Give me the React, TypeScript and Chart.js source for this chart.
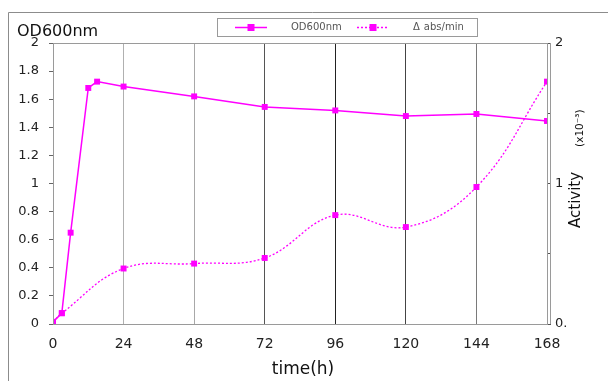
import React, { useEffect, useRef } from "react";
import { Chart, registerables } from "chart.js";

Chart.register(...registerables);

const odHours = [0, 3, 6, 12, 15, 24, 48, 72, 96, 120, 144, 168];
const odValues = [0.015, 0.077, 0.65, 1.68, 1.725, 1.69, 1.62, 1.545, 1.52, 1.48, 1.495, 1.445];
const actHours = [0, 3, 24, 48, 72, 96, 120, 144, 168];
const actValues = [0.015, 0.077, 0.395, 0.43, 0.47, 0.775, 0.69, 0.975, 1.725];
const xTicks = [0, 24, 48, 72, 96, 120, 144, 168];
const leftTicks = [0, 0.2, 0.4, 0.6, 0.8, 1, 1.2, 1.4, 1.6, 1.8, 2];
const rightTicks = [0, 0.5, 1, 1.5, 2];
const rightTickLabels: Record<string, string> = { "0": "0.", "1": "1", "2": "2" };
const legendLabels = ["OD600nm", "\u0394abs/min"];

const MAGENTA = "#ff00ff";
const FONT = "'DejaVu Sans', Verdana, sans-serif";

const gridColors: Record<number, string> = {
  24: "#b0b0b0",
  48: "#a8a8a8",
  72: "#555555",
  96: "#222222",
  120: "#444444",
  144: "#7a7a7a",
  168: "#888888",
};

const decorPlugin = {
  id: "decor",
  beforeDraw(chart: any) {
    const ctx = chart.ctx;
    ctx.save();
    ctx.fillStyle = "#ffffff";
    ctx.fillRect(0, 0, chart.width, chart.height);
    ctx.strokeStyle = "#8c8c8c";
    ctx.lineWidth = 1;
    ctx.beginPath();
    ctx.moveTo(0.5, chart.height);
    ctx.lineTo(0.5, 4.5);
    ctx.lineTo(chart.width, 4.5);
    ctx.stroke();
    ctx.restore();
  },
  afterDraw(chart: any) {
    const ctx = chart.ctx;
    const a = chart.chartArea;
    ctx.save();
    // plot frame
    ctx.strokeStyle = "#9a9a9a";
    ctx.lineWidth = 1;
    ctx.strokeRect(a.left + 0.5, a.top + 0.5, a.right - a.left, a.bottom - a.top);
    ctx.beginPath();
    ctx.moveTo(a.right + 3.5, a.top);
    ctx.lineTo(a.right + 3.5, a.bottom);
    ctx.stroke();

    // title
    ctx.fillStyle = "#111";
    ctx.font = `16px ${FONT}`;
    ctx.textBaseline = "alphabetic";
    ctx.textAlign = "left";
    ctx.fillText("OD600nm", 9, 28);

    // x title
    ctx.font = `17px ${FONT}`;
    ctx.textAlign = "center";
    ctx.fillText("time(h)", 295, 366);

    // right title
    ctx.save();
    ctx.translate(572, 220);
    ctx.rotate(-Math.PI / 2);
    ctx.textAlign = "left";
    ctx.font = `15px ${FONT}`;
    ctx.fillText("Activity", 0, 0);
    const w = ctx.measureText("Activity").width;
    ctx.font = `10.5px ${FONT}`;
    ctx.fillText("(x10\u207B\u00B3)", w + 25, 3);
    ctx.restore();

    // legend
    const lx = 209, ly = 10, lw = 260, lh = 18;
    ctx.fillStyle = "#ffffff";
    ctx.fillRect(lx, ly, lw, lh);
    ctx.strokeStyle = "#9a9a9a";
    ctx.strokeRect(lx + 0.5, ly + 0.5, lw, lh);
    const cy = ly + lh / 2 + 0.5;
    const drawSample = (x0: number, dashed: boolean) => {
      ctx.strokeStyle = MAGENTA;
      ctx.lineWidth = 1.5;
      ctx.setLineDash(dashed ? [2, 2] : []);
      ctx.beginPath();
      ctx.moveTo(x0, cy);
      ctx.lineTo(x0 + 32, cy);
      ctx.stroke();
      ctx.setLineDash([]);
      ctx.fillStyle = MAGENTA;
      ctx.fillRect(x0 + 16 - 3.5, cy - 3.5, 7, 7);
    };
    drawSample(227, false);
    drawSample(349, true);
    ctx.fillStyle = "#555";
    ctx.font = `10px ${FONT}`;
    ctx.textAlign = "left";
    ctx.textBaseline = "middle";
    ctx.fillText(legendLabels[0], 283, cy);
    const first = legendLabels[1].charAt(0);
    ctx.fillText(first, 405, cy);
    const fw = ctx.measureText(first).width;
    ctx.fillText(legendLabels[1].slice(1), 405 + fw + 4, cy);
    ctx.restore();
  },
};

export default function App() {
  const ref = useRef<HTMLCanvasElement | null>(null);
  useEffect(() => {
    if (!ref.current) return;
    const chart = new Chart(ref.current, {
      type: "line",
      data: {
        datasets: [
          {
            label: legendLabels[0],
            data: odHours.map((h, i) => ({ x: h, y: odValues[i] })),
            borderColor: MAGENTA,
            backgroundColor: MAGENTA,
            borderWidth: 1.5,
            pointStyle: "rect",
            pointRadius: 4.2,
            pointBorderWidth: 0,
            tension: 0,
            yAxisID: "y",
          },
          {
            label: legendLabels[1],
            data: actHours.map((h, i) => ({ x: h, y: actValues[i] })),
            borderColor: MAGENTA,
            backgroundColor: MAGENTA,
            borderWidth: 1.3,
            borderDash: [2, 2],
            pointStyle: "rect",
            pointRadius: 4.2,
            pointBorderWidth: 0,
            tension: 0.4,
            yAxisID: "y1",
          },
        ],
      },
      options: {
        responsive: false,
        animation: false,
        layout: { padding: { top: 35, left: 0, right: 0, bottom: 0 } },
        plugins: { legend: { display: false }, tooltip: { enabled: false } },
        scales: {
          x: {
            type: "linear",
            min: 0,
            max: 168,
            afterBuildTicks: (s: any) => {
              s.ticks = xTicks.map((v) => ({ value: v }));
            },
            afterFit: (s: any) => {
              s.height = 57;
            },
            grid: {
              drawTicks: false,
              color: (c: any) => gridColors[c.tick?.value] ?? "rgba(0,0,0,0)",
              lineWidth: 1,
            },
            border: { color: "#8c8c8c" },
            ticks: {
              padding: 12,
              color: "#222",
              font: { family: FONT, size: 14 },
              maxRotation: 0,
            },
          },
          y: {
            position: "left",
            min: 0,
            max: 2,
            afterBuildTicks: (s: any) => {
              s.ticks = leftTicks.map((v) => ({ value: v }));
            },
            afterFit: (s: any) => {
              s.width = 45;
            },
            grid: { drawOnChartArea: false, tickLength: 4, color: "#666" },
            border: { color: "#666" },
            ticks: {
              padding: 10,
              color: "#222",
              font: { family: FONT, size: 13 },
              callback: (v: any) => String(Math.round(v * 10) / 10),
            },
          },
          y1: {
            position: "right",
            min: 0,
            max: 2,
            afterBuildTicks: (s: any) => {
              s.ticks = rightTicks.map((v) => ({ value: v }));
            },
            afterFit: (s: any) => {
              s.width = 69;
            },
            grid: { drawOnChartArea: false, tickLength: 4, color: "#555" },
            border: { color: "#777" },
            ticks: {
              padding: 4,
              color: "#222",
              font: { family: FONT, size: 13 },
              callback: (v: any) => rightTickLabels[String(v)] ?? "",
            },
          },
        },
      },
      plugins: [decorPlugin],
    } as any);
    return () => chart.destroy();
  }, []);
  return (
    <div style={{ width: 608, height: 373 }}>
      <canvas ref={ref} width={608} height={373} style={{ display: "block" }} />
    </div>
  );
}
